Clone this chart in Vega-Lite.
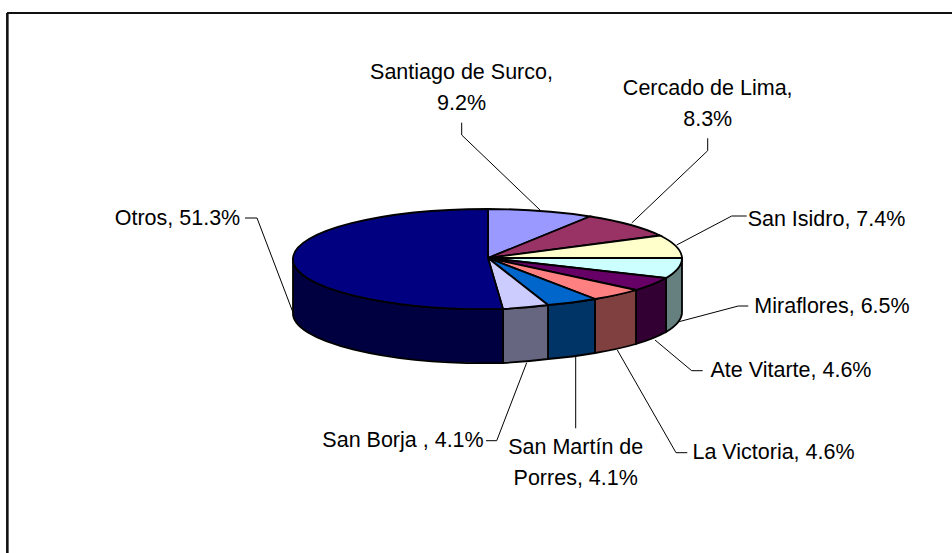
{
"$schema":"https://vega.github.io/schema/vega-lite/v6.json",
"width":952,"height":553,"padding":0,"autosize":{"type":"none"},
"background":"white",
"config":{"view":{"stroke":null}},
"data":{"values":[
{"orden":1,"distrito":"Santiago de Surco","pct":9.2,"etiqueta":"Santiago de Surco,\n9.2%"},
{"orden":2,"distrito":"Cercado de Lima","pct":8.3,"etiqueta":"Cercado de Lima,\n8.3%"},
{"orden":3,"distrito":"San Isidro","pct":7.4,"etiqueta":"San Isidro, 7.4%"},
{"orden":4,"distrito":"Miraflores","pct":6.5,"etiqueta":"Miraflores, 6.5%"},
{"orden":5,"distrito":"Ate Vitarte","pct":4.6,"etiqueta":"Ate Vitarte, 4.6%"},
{"orden":6,"distrito":"La Victoria","pct":4.6,"etiqueta":"La Victoria, 4.6%"},
{"orden":7,"distrito":"San Martín de Porres","pct":4.1,"etiqueta":"San Martín de\nPorres, 4.1%"},
{"orden":8,"distrito":"San Borja","pct":4.1,"etiqueta":"San Borja , 4.1%"},
{"orden":9,"distrito":"Otros","pct":51.3,"etiqueta":"Otros, 51.3%"}
]},
"layer":[
{"mark":{"type":"rule","stroke":"#111111","strokeWidth":1.4},
 "encoding":{"x":{"value":7.4},"y":{"value":13},"y2":{"value":553}}},
{"mark":{"type":"rule","stroke":"#111111","strokeWidth":1.4},
 "encoding":{"y":{"value":13},"x":{"value":7.4},"x2":{"value":952}}},
{"mark":{"type":"point","filled":false,"opacity":1,"stroke":"#000000","strokeWidth":1,"size":4},
 "encoding":{"x":{"value":488},"y":{"value":258},
 "shape":{"field":"distrito","type":"nominal","legend":null,"scale":{
  "domain":["Santiago de Surco","Cercado de Lima","San Isidro","Miraflores","Ate Vitarte","La Victoria","San Martín de Porres","San Borja","Otros"],
  "range":["M-26.3,-135.3L-26.3,-123L52,-48","M219.7,-119.7L219.7,-107.3L143.7,-35","M258.7,-42L243.7,-42L188.7,-13","M260.3,48L250.3,48L188.7,64.3","M214.7,112.7L203.7,112.7L167,82","M199.3,194.7L188,194.7L129.3,92","M87.7,170.3L87.7,98.7","M-2,182.7L8.7,182.7L38.7,104.7","M-243,-40L-231,-40L-195.3,53.7"]}}}},
{"transform":[{"filter":{"field":"distrito","oneOf":["Miraflores","Ate Vitarte","La Victoria","San Martín de Porres","San Borja","Otros"]}}],
 "mark":{"type":"point","filled":true,"opacity":1,"stroke":"#000000","strokeWidth":1.8,"size":4},
 "encoding":{"x":{"value":488},"y":{"value":258},
 "fill":{"field":"distrito","type":"nominal","legend":null,"scale":{
  "domain":["Miraflores","Ate Vitarte","La Victoria","San Martín de Porres","San Borja","Otros"],
  "range":["#668080","#330033","#804040","#003366","#666680","#000040"]}},
 "shape":{"field":"distrito","type":"nominal","legend":null,"scale":{
  "domain":["Miraflores","Ate Vitarte","La Victoria","San Martín de Porres","San Borja","Otros"],
  "range":["M194,0A194.5,50 0 0 1 178,20L178,74A194.5,50 0 0 0 194,54Z","M178,20A194.5,50 0 0 1 148,32L148,86A194.5,50 0 0 0 178,74Z","M148,32A194.5,50 0 0 1 107,41L107,95A194.5,50 0 0 0 148,86Z","M107,41A194.5,50 0 0 1 60,47L60,101A194.5,50 0 0 0 107,95Z","M60,47A194.5,50 0 0 1 15,51L15,105A194.5,50 0 0 0 60,101Z","M15,51A194.5,50 0 0 1 -195,0L-195,54A194.5,50 0 0 0 15,105Z"]}}}},
{"mark":{"type":"point","filled":true,"opacity":1,"stroke":"#000000","strokeWidth":1.8,"size":4},
 "encoding":{"x":{"value":488},"y":{"value":258},
 "fill":{"field":"distrito","type":"nominal","legend":null,"scale":{
  "domain":["Santiago de Surco","Cercado de Lima","San Isidro","Miraflores","Ate Vitarte","La Victoria","San Martín de Porres","San Borja","Otros"],
  "range":["#9999FF","#993366","#FFFFCC","#CCFFFF","#660066","#FF8080","#0066CC","#CCCCFF","#000080"]}},
 "shape":{"field":"distrito","type":"nominal","legend":null,"scale":{
  "domain":["Santiago de Surco","Cercado de Lima","San Isidro","Miraflores","Ate Vitarte","La Victoria","San Martín de Porres","San Borja","Otros"],
  "range":["M0,0L0,-49A194.5,50 0 0 1 102,-41.5Z","M0,0L102,-41.5A194.5,50 0 0 1 172,-22.5Z","M0,0L172,-22.5A194.5,50 0 0 1 194,0Z","M0,0L194,0A194.5,50 0 0 1 178,20Z","M0,0L178,20A194.5,50 0 0 1 148,32Z","M0,0L148,32A194.5,50 0 0 1 107,41Z","M0,0L107,41A194.5,50 0 0 1 60,47Z","M0,0L60,47A194.5,50 0 0 1 15,51Z","M0,0L15,51A194.5,50 0 0 1 -195,0A194.5,50 0 0 1 0,-49Z"]}}}},
{"mark":{"type":"text","font":"Liberation Sans","fontSize":21.5,"align":"center","baseline":"middle","lineBreak":"\n","lineHeight":30.5,"color":"#000000"},
 "encoding":{"text":{"field":"etiqueta","type":"nominal"},
 "x":{"field":"orden","type":"quantitative","axis":null,"scale":{"zero":false,"nice":false,
  "domain":[1,2,3,4,5,6,7,8,9],
  "range":[461.5,707.7,826.5,832,791,773.5,575.7,403,177.5]}},
 "y":{"field":"orden","type":"quantitative","axis":null,"scale":{"zero":false,"nice":false,
  "domain":[1,2,3,4,5,6,7,8,9],
  "range":[73,89,220,307,371,453,448,441,219]}}}}
],
"resolve":{"scale":{"shape":"independent","fill":"independent","x":"independent","y":"independent"}}
}
